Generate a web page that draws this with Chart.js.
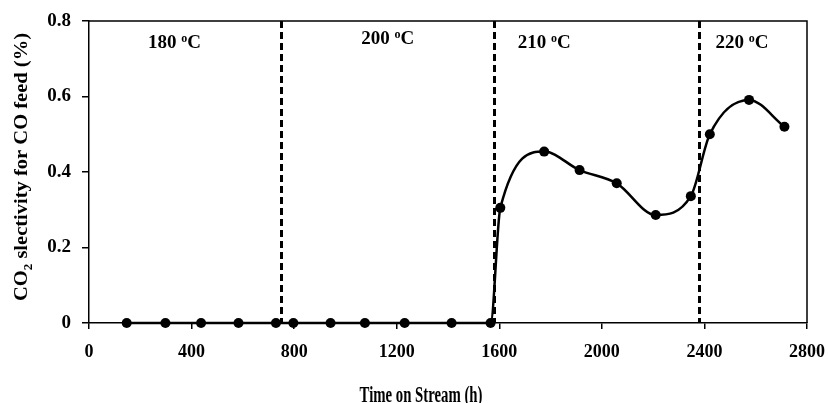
<!DOCTYPE html>
<html>
<head>
<meta charset="utf-8">
<script src="https://cdn.jsdelivr.net/npm/chart.js@4.4.1/dist/chart.umd.min.js"></script>
<style>
  body { margin: 0; background: #fff; }
  canvas { display: block; }
</style>
</head>
<body>
<canvas id="grafico" width="828" height="403"></canvas>
<script>
// dati
let timeH = [147, 298, 437, 583, 729, 797, 942, 1076, 1231, 1414, 1566, 1604, 1775, 1913, 2058, 2210, 2347, 2421, 2574, 2712]
let co2Sel = [0, 0, 0, 0, 0, 0, 0, 0, 0, 0, 0, 0.305, 0.454, 0.405, 0.370, 0.286, 0.336, 0.500, 0.591, 0.520]

// cambi di temperatura (linee tratteggiate)
let cambiTemp = [750, 1578, 2377]
let tempLabel = ["180", "200", "210", "220"]
let tempX = [333, 1165, 1775, 2546]
let tempY = [0.747, 0.757, 0.747, 0.747]

let xTicks = [0, 400, 800, 1200, 1600, 2000, 2400, 2800]
let yTicks = [0, 0.2, 0.4, 0.6, 0.8]

const serif = "'Liberation Serif', 'Times New Roman', serif"

let punti = []
for (let i = 0; i < timeH.length; i++) {
    punti.push({x: timeH[i], y: co2Sel[i]})
}

// cornice, linee tratteggiate, etichette temperatura, titoli assi
let extra = {
    id: "extra",
    beforeDatasetsDraw(chart) {
        let ctx = chart.ctx
        let area = chart.chartArea
        let xs = chart.scales.x
        let ys = chart.scales.y
        ctx.save()
        ctx.strokeStyle = "#000"
        ctx.lineWidth = 1.5
        ctx.beginPath()
        ctx.moveTo(area.left, area.top)
        ctx.lineTo(area.right, area.top)
        ctx.lineTo(area.right, area.bottom)
        ctx.stroke()

        ctx.lineWidth = 3
        ctx.setLineDash([7, 4])
        for (let t of cambiTemp) {
            let px = Math.round(xs.getPixelForValue(t)) + 0.5
            ctx.beginPath()
            ctx.moveTo(px, area.top)
            ctx.lineTo(px, area.bottom)
            ctx.stroke()
        }
        ctx.setLineDash([])

        ctx.fillStyle = "#000"
        ctx.textBaseline = "alphabetic"
        for (let i = 0; i < tempLabel.length; i++) {
            let cx = xs.getPixelForValue(tempX[i])
            let cy = ys.getPixelForValue(tempY[i]) + 7
            let big = "bold 19px " + serif
            let small = "bold 12px " + serif
            ctx.font = big
            let w1 = ctx.measureText(tempLabel[i] + " ").width
            let w3 = ctx.measureText("C").width
            ctx.font = small
            let w2 = ctx.measureText("o").width
            let x0 = cx - (w1 + w2 + w3) / 2
            ctx.font = big
            ctx.textAlign = "left"
            ctx.fillText(tempLabel[i] + " ", x0, cy)
            ctx.font = small
            ctx.fillText("o", x0 + w1, cy - 6)
            ctx.font = big
            ctx.fillText("C", x0 + w1 + w2, cy)
        }

        // titolo asse x
        ctx.save()
        ctx.translate(421, 402)
        ctx.scale(0.82, 1.25)
        ctx.font = "bold 18px " + serif
        ctx.textAlign = "center"
        ctx.fillText("Time on Stream (h)", 0, 0)
        ctx.restore()

        // titolo asse y con pedice
        ctx.translate(27, 167)
        ctx.rotate(-Math.PI / 2)
        ctx.scale(1.08, 1)
        let f = "bold 19px " + serif
        let fs = "bold 12px " + serif
        ctx.font = f
        let a = ctx.measureText("CO").width
        let c = ctx.measureText(" slectivity for CO feed (%)").width
        ctx.font = fs
        let b = ctx.measureText("2").width
        let x0 = -(a + b + c) / 2
        ctx.textAlign = "left"
        ctx.font = f
        ctx.fillText("CO", x0, 0)
        ctx.font = fs
        ctx.fillText("2", x0 + a, 5)
        ctx.font = f
        ctx.fillText(" slectivity for CO feed (%)", x0 + a + b, 0)
        ctx.restore()
    }
}

let myCanvas = document.getElementById("grafico").getContext("2d")

let chart = new Chart(myCanvas, {
    type: "line",
    data: {
        datasets: [{
            data: punti,
            borderColor: "#000",
            backgroundColor: "#000",
            borderWidth: 2.5,
            pointRadius: 5,
            pointBackgroundColor: "#000",
            pointBorderWidth: 0,
            cubicInterpolationMode: "monotone",
            fill: false,
            clip: false
        }]
    },
    options: {
        responsive: false,
        animation: false,
        layout: {
            padding: {left: 0, right: 21, top: 21, bottom: 0}
        },
        plugins: {
            legend: {display: false},
            tooltip: {enabled: false}
        },
        scales: {
            x: {
                type: "linear",
                min: 0,
                max: 2800,
                afterBuildTicks: (s) => { s.ticks = xTicks.map(v => ({value: v})) },
                afterFit: (s) => { s.height = 80; s.paddingLeft = 0; s.paddingRight = 0 },
                grid: {drawOnChartArea: false, tickLength: 6, color: "#000", lineWidth: 1.5},
                border: {color: "#000", width: 1.5},
                ticks: {
                    color: "#000",
                    font: {family: serif, size: 18, weight: "bold"},
                    padding: 13,
                    maxRotation: 0,
                    callback: (v) => String(v)
                }
            },
            y: {
                min: 0,
                max: 0.8,
                afterBuildTicks: (s) => { s.ticks = yTicks.map(v => ({value: v})) },
                afterFit: (s) => { s.width = 89; s.paddingTop = 0; s.paddingBottom = 0 },
                grid: {drawOnChartArea: false, tickLength: 7, color: "#000", lineWidth: 1.5},
                border: {color: "#000", width: 1.5},
                ticks: {
                    color: "#000",
                    font: {family: serif, size: 19, weight: "bold"},
                    padding: 11,
                    callback: (v) => v == 0 ? "0" : v.toFixed(1)
                }
            }
        }
    },
    plugins: [extra]
})
</script>
</body>
</html>
